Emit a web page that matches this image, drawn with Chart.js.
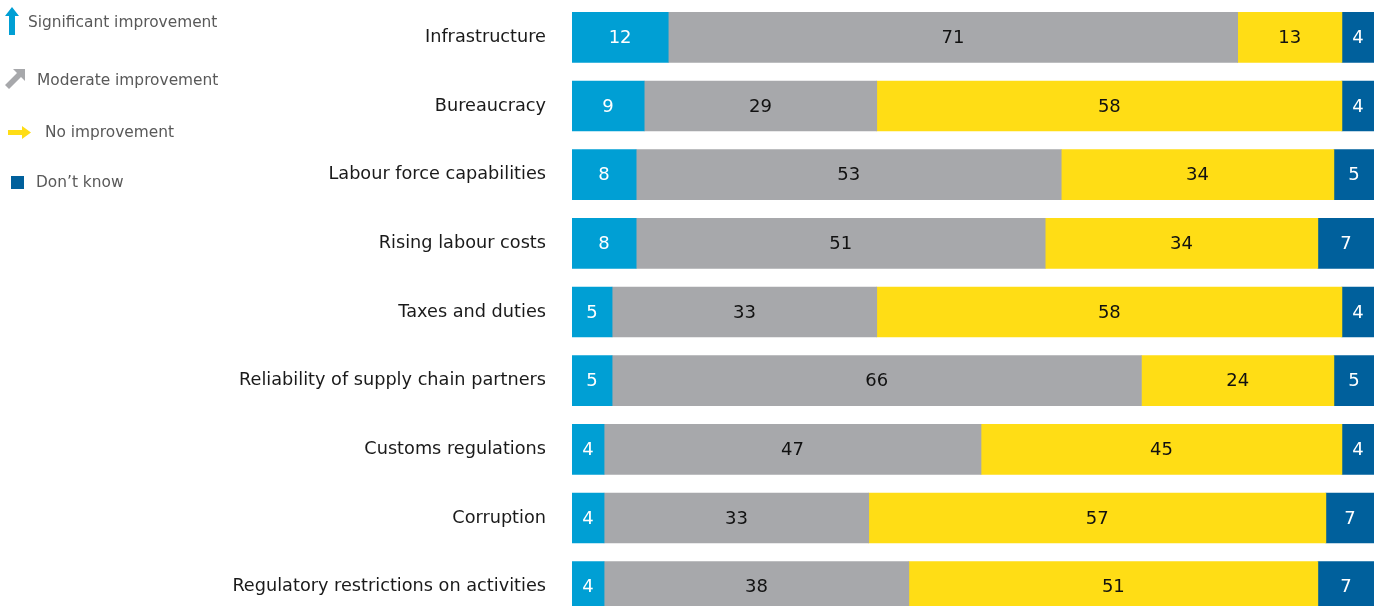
<!DOCTYPE html>
<html>
<head>
<meta charset="utf-8">
<script src="https://cdn.jsdelivr.net/npm/chart.js@4/dist/chart.umd.min.js"></script>
<style>
  html, body { margin: 0; padding: 0; background: #ffffff; overflow: hidden; width: 1379px; height: 606px; }
  #wrap { position: absolute; left: 0; top: 0; width: 1379px; height: 625px; }
  #legend { position: absolute; left: 0; top: 0; width: 230px; height: 200px; font-family: "DejaVu Sans", sans-serif; font-size: 15.4px; color: #595959; }
  .li { position: absolute; white-space: nowrap; line-height: 18px; }
</style>
</head>
<body>
<div id="wrap"><canvas id="c" width="1379" height="625"></canvas></div>
<div id="legend">
  <svg style="position:absolute;left:5px;top:7px" width="14" height="28" viewBox="0 0 14 28"><polygon points="7,0 14,9 10,9 10,28 4,28 4,9 0,9" fill="#009FD4"/></svg>
  <div class="li" style="left:28px;top:13px">Significant improvement</div>
  <svg style="position:absolute;left:4px;top:69px" width="21" height="21" viewBox="0 0 21 21"><polygon points="21,0 21,12 17,8 5,20 1,16 13,4 9,0" fill="#A7A8AB"/></svg>
  <div class="li" style="left:37px;top:71px">Moderate improvement</div>
  <svg style="position:absolute;left:8px;top:126px" width="23" height="13" viewBox="0 0 23 13"><polygon points="0,4 14,4 14,0 23,6.5 14,13 14,9 0,9" fill="#FFDD15"/></svg>
  <div class="li" style="left:45px;top:123px">No improvement</div>
  <svg style="position:absolute;left:11px;top:176px" width="13" height="13" viewBox="0 0 13 13"><rect x="0" y="0" width="13" height="13" fill="#00609C"/></svg>
  <div class="li" style="left:36px;top:173px">Don’t know</div>
</div>
<script>
const categories = [
  "Infrastructure",
  "Bureaucracy",
  "Labour force capabilities",
  "Rising labour costs",
  "Taxes and duties",
  "Reliability of supply chain partners",
  "Customs regulations",
  "Corruption",
  "Regulatory restrictions on activities"
];
const seriesNames = ["Significant improvement", "Moderate improvement", "No improvement", "Don’t know"];
const significant = [12, 9, 8, 8, 5, 5, 4, 4, 4];
const moderate    = [71, 29, 53, 51, 33, 66, 47, 33, 38];
const noImprove   = [13, 58, 34, 34, 58, 24, 45, 57, 51];
const dontKnow    = [4, 4, 5, 7, 4, 5, 4, 7, 7];

const colors = ["#009FD4", "#A7A8AB", "#FFDD15", "#00609C"];
const labelColors = ["#ffffff", "#111111", "#111111", "#ffffff"];
const FONT = '"DejaVu Sans", sans-serif';

const valueLabels = {
  id: 'valueLabels',
  afterDatasetsDraw(chart) {
    const ctx = chart.ctx;
    const area = chart.chartArea;
    ctx.save();
    ctx.font = '18px ' + FONT;
    ctx.textAlign = 'center';
    ctx.textBaseline = 'middle';
    chart.data.datasets.forEach((ds, di) => {
      const meta = chart.getDatasetMeta(di);
      meta.data.forEach((el, i) => {
        const left = Math.max(Math.min(el.x, el.base), area.left);
        const right = Math.min(Math.max(el.x, el.base), area.right);
        ctx.fillStyle = labelColors[di];
        ctx.fillText(String(ds.data[i]), (left + right) / 2, el.y + 1);
      });
    });
    ctx.restore();
  }
};

new Chart(document.getElementById('c'), {
  type: 'bar',
  data: {
    labels: categories,
    datasets: [significant, moderate, noImprove, dontKnow].map((d, i) => ({
      label: seriesNames[i],
      data: d,
      backgroundColor: colors[i],
      borderWidth: 0,
      barThickness: 50
    }))
  },
  options: {
    indexAxis: 'y',
    responsive: false,
    animation: false,
    layout: { padding: { left: 0, right: 5, top: 3, bottom: 4 } },
    plugins: { legend: { display: false }, tooltip: { enabled: false } },
    scales: {
      x: { stacked: true, display: false, min: 0, max: 100 },
      y: {
        stacked: true,
        grid: { display: false, drawTicks: false },
        border: { display: false },
        ticks: { color: '#1a1a1a', font: { family: FONT, size: 17.7 }, padding: 26 },
        afterFit(scale) { scale.width = 572; scale.paddingTop = 0; scale.paddingBottom = 0; }
      }
    }
  },
  plugins: [valueLabels]
});
</script>
</body>
</html>
